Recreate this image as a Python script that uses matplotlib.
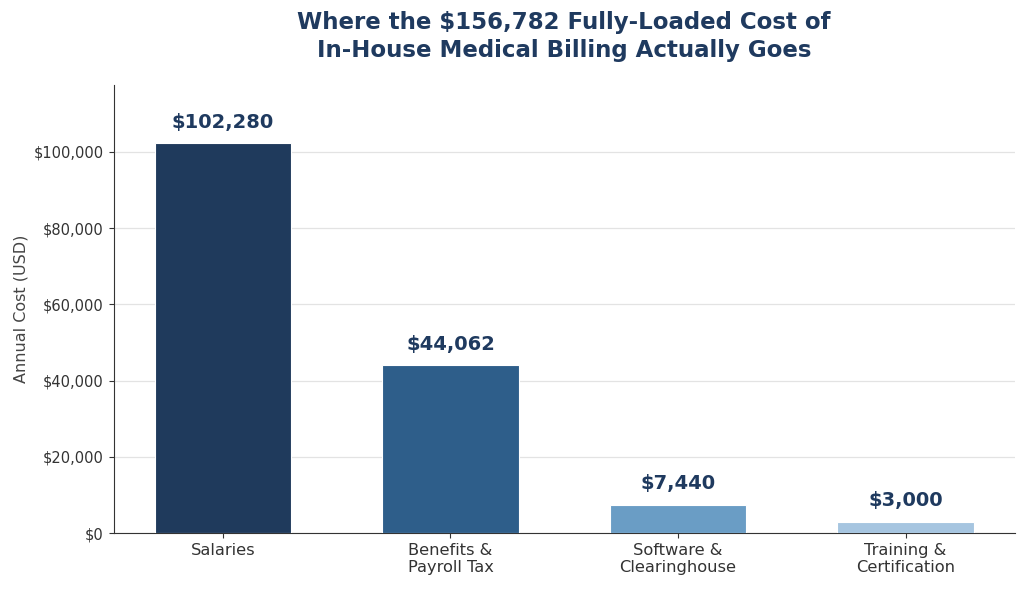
import matplotlib
matplotlib.use("Agg")
import matplotlib.pyplot as plt
from matplotlib.ticker import FuncFormatter

plt.rcParams["font.family"] = ["DejaVu Sans"]

categories = ["Salaries", "Benefits &\nPayroll Tax", "Software &\nClearinghouse", "Training &\nCertification"]
costs = [102280, 44062, 7440, 3000]
bar_colors = ["#1f3a5c", "#2e5e8a", "#6a9dc5", "#a6c5e0"]

navy = "#1f3a5f"

fig, ax = plt.subplots(figsize=(10.24, 6.05), dpi=100)
fig.subplots_adjust(left=0.111, right=0.991, bottom=0.119, top=0.86)

x = range(len(categories))
ax.bar(x, costs, width=0.6, color=bar_colors, edgecolor="white", linewidth=0.8, zorder=3)

for xi, v in zip(x, costs):
    ax.text(xi, v + 3000, f"${v:,.0f}", ha="center", va="bottom",
            fontsize=14, fontweight="bold", color=navy)

ax.set_ylim(0, max(costs) * 1.15)
ax.yaxis.set_major_formatter(FuncFormatter(lambda v, p: f"${v:,.0f}"))
ax.set_xticks(list(x))
ax.set_xticklabels(categories, fontsize=11.7, color="#222222")
ax.tick_params(axis="y", labelsize=10.5, labelcolor="#222222")
ax.tick_params(colors="#333333")
ax.set_ylabel("Annual Cost (USD)", fontsize=11.5, color="#444444")
ax.grid(axis="y", color="#e3e3e3", linewidth=0.9, zorder=0)
ax.set_axisbelow(True)
for s in ["top", "right"]:
    ax.spines[s].set_visible(False)
for s in ["left", "bottom"]:
    ax.spines[s].set_color("#333333")

ax.set_title("Where the $156,782 Fully-Loaded Cost of\nIn-House Medical Billing Actually Goes",
             fontsize=16.5, fontweight="bold", color=navy, pad=20, linespacing=1.3)

fig.savefig("out.png", dpi=100)
